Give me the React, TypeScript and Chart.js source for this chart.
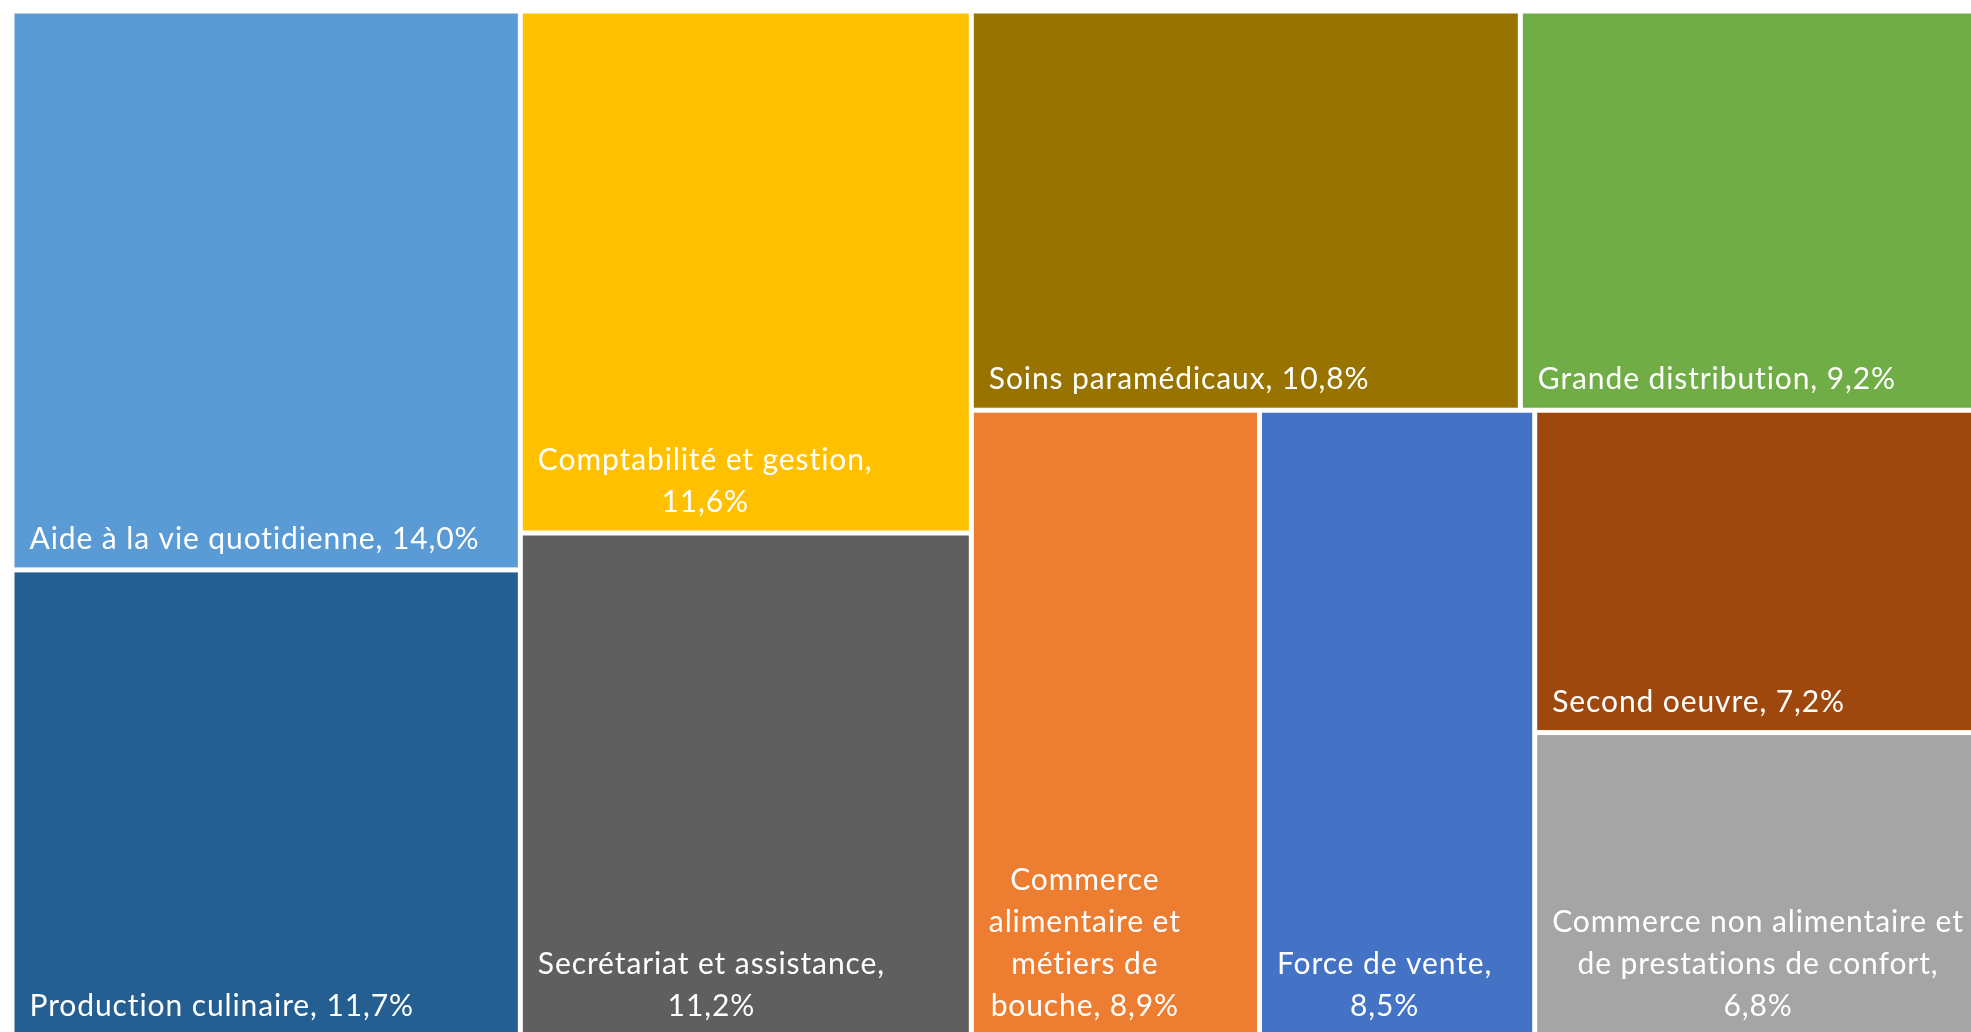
import React, { useEffect, useRef } from "react";
import { Chart, registerables } from "chart.js";

Chart.register(...registerables);

// ---- data ----
const categories: string[] = [
  "Aide à la vie quotidienne",
  "Production culinaire",
  "Comptabilité et gestion",
  "Secrétariat et assistance",
  "Soins paramédicaux",
  "Grande distribution",
  "Commerce\nalimentaire et\nmétiers de\nbouche",
  "Force de vente",
  "Second oeuvre",
  "Commerce non alimentaire et\nde prestations de confort",
];
const values: number[] = [14.0, 11.7, 11.6, 11.2, 10.8, 9.2, 8.9, 8.5, 7.2, 6.8];
// separator between name and value in the label (line break or space)
const valueSeparators: string[] = [", ", ", ", ",\n", ",\n", ", ", ", ", ", ", ",\n", ", ", ",\n"];
const colors: string[] = [
  "#5B9BD5",
  "#255E91",
  "#FFC000",
  "#5F5F5F",
  "#997300",
  "#70AD47",
  "#ED7D31",
  "#4472C4",
  "#9E480E",
  "#A5A5A5",
];

// treemap grouping: "h" = children side by side, "v" = stacked
type TNode = number | { split: "h" | "v"; children: TNode[] };
const layoutTree: TNode = {
  split: "h",
  children: [
    { split: "v", children: [0, 1] },
    { split: "v", children: [2, 3] },
    {
      split: "v",
      children: [
        { split: "h", children: [4, 5] },
        { split: "h", children: [6, 7, { split: "v", children: [8, 9] }] },
      ],
    },
  ],
};

type Rect = { i: number; x0: number; y0: number; x1: number; y1: number };

function nodeSum(n: TNode): number {
  if (typeof n === "number") return values[n];
  return n.children.reduce((s, c) => s + nodeSum(c), 0);
}

function layout(n: TNode, x0: number, y0: number, x1: number, y1: number, out: Rect[]) {
  if (typeof n === "number") {
    out.push({ i: n, x0, y0, x1, y1 });
    return;
  }
  const total = nodeSum(n);
  let acc = 0;
  for (const c of n.children) {
    const s = nodeSum(c);
    const a = acc / total;
    const b = (acc + s) / total;
    if (n.split === "h") layout(c, x0 + (x1 - x0) * a, y0, x0 + (x1 - x0) * b, y1, out);
    else layout(c, x0, y0 + (y1 - y0) * a, x1, y0 + (y1 - y0) * b, out);
    acc += s;
  }
}

function fmt(v: number): string {
  return v.toFixed(1).replace(".", ",") + "%";
}

const treemapPlugin = {
  id: "treemapCells",
  beforeDatasetsDraw(chart: any) {
    const { ctx, scales } = chart;
    const xs = scales.x;
    const ys = scales.y;
    const rects: Rect[] = [];
    layout(layoutTree, 0, 0, 1, 1, rects);
    const gap = 2.5;
    const fontSize = 30;
    const lineH = 42;
    ctx.save();
    for (const r of rects) {
      const px0 = xs.getPixelForValue(r.x0) + gap;
      const px1 = xs.getPixelForValue(r.x1) - gap;
      const py0 = ys.getPixelForValue(r.y0) + gap;
      const py1 = ys.getPixelForValue(r.y1) - gap;
      ctx.fillStyle = colors[r.i];
      ctx.fillRect(px0, py0, px1 - px0, py1 - py0);

      const text = categories[r.i] + valueSeparators[r.i] + fmt(values[r.i]);
      const lines = text.split("\n");
      ctx.font = `${fontSize}px Lato, "Open Sans", sans-serif`;
      try {
        (ctx as any).letterSpacing = "0.9px";
      } catch (e) {}
      ctx.fillStyle = "#FFFFFF";
      ctx.textBaseline = "middle";
      ctx.textAlign = "center";
      const widths = lines.map((l) => ctx.measureText(l).width);
      const blockW = Math.max(...widths);
      const padL = 15;
      const cx = px0 + padL + blockW / 2;
      const lastY = py1 - 28;
      lines.forEach((l, k) => {
        const y = lastY - (lines.length - 1 - k) * lineH;
        ctx.fillText(l, cx, y);
      });
    }
    ctx.restore();
  },
};

export default function App() {
  const ref = useRef<HTMLCanvasElement | null>(null);
  useEffect(() => {
    if (!ref.current) return;
    const rects: Rect[] = [];
    layout(layoutTree, 0, 0, 1, 1, rects);
    const chart = new Chart(ref.current, {
      type: "scatter",
      data: {
        datasets: [
          {
            label: "cells",
            data: rects.map((r) => ({ x: (r.x0 + r.x1) / 2, y: (r.y0 + r.y1) / 2 })),
            pointRadius: 0,
            pointHoverRadius: 0,
          },
        ],
      },
      options: {
        responsive: false,
        animation: false,
        layout: { padding: { left: 12, top: 11, right: 12, bottom: 13 } },
        plugins: { legend: { display: false }, tooltip: { enabled: false } },
        scales: {
          x: { type: "linear", min: 0, max: 1, display: false },
          y: { type: "linear", min: 0, max: 1, reverse: true, display: false },
        },
      },
      plugins: [treemapPlugin],
    });
    return () => chart.destroy();
  }, []);
  return (
    <div style={{ position: "fixed", left: 0, top: 0, width: "100vw", height: "100vh", overflow: "hidden", background: "#fff" }}>
      <canvas ref={ref} width={2000} height={1050} style={{ display: "block", width: 2000, height: 1050 }} />
    </div>
  );
}
